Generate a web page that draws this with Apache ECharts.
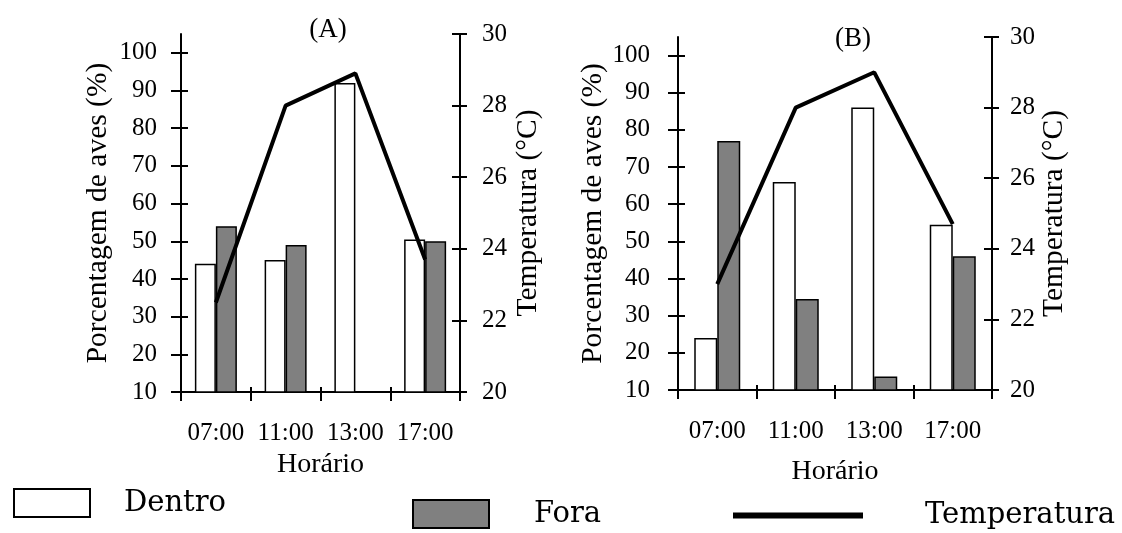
<!DOCTYPE html>
<html>
<head>
<meta charset="utf-8">
<script src="https://cdn.jsdelivr.net/npm/echarts@6/dist/echarts.min.js"></script>
<style>
html,body{margin:0;padding:0;background:#fff;}
#chart{width:1122px;height:533px;}
</style>
</head>
<body>
<div id="chart"></div>
<script>
// ---- data ----
const categories = ['07:00', '11:00', '13:00', '17:00'];
const dentroA = [44, 45, 92, 50.5];
const foraA = [54, 49, null, 50];
const tempA = [22.5, 28, 28.9, 23.7];
const dentroB = [24, 66, 86, 54.5];
const foraB = [77, 34.5, 13.6, 46];
const tempB = [23, 28, 29, 24.7];
const leftTicks = [10, 20, 30, 40, 50, 60, 70, 80, 90, 100];
const panelTitles = ['(A)', '(B)'];

const SERIF = 'Liberation Serif';
const BLACK = '#000';
const GRAY = '#808080';

const chart = echarts.init(document.getElementById('chart'), null, {renderer: 'canvas'});

const grids = [
  {left: 181, top: 34, width: 279, height: 358},
  {left: 678, top: 37, width: 314, height: 353}
];

function xAxes(gi, nameGap) {
  return [
    {
      type: 'category', gridIndex: gi, data: categories, position: 'bottom',
      boundaryGap: true,
      name: 'Horário', nameLocation: 'middle', nameGap: nameGap,
      nameTextStyle: {fontFamily: SERIF, fontSize: 28, color: BLACK},
      axisLine: {show: true, lineStyle: {color: BLACK, width: 2}},
      axisTick: {show: true, alignWithLabel: false, interval: 0, length: 9, lineStyle: {color: BLACK, width: 2}},
      axisLabel: {fontFamily: SERIF, fontSize: 25, color: BLACK, margin: 29, interval: 0, hideOverlap: false},
      splitLine: {show: false}
    },
    {
      type: 'category', gridIndex: gi, data: categories, position: 'bottom',
      boundaryGap: true,
      axisLine: {show: false},
      axisTick: {show: true, inside: true, interval: 0, alignWithLabel: false, length: 5, lineStyle: {color: BLACK, width: 2}},
      axisLabel: {show: false},
      splitLine: {show: false}
    }
  ];
}

function yAxes(gi, leftGap, rightGap, leftMargin, rightMargin) {
  return [
    {
      type: 'value', gridIndex: gi, position: 'left', min: 10, max: 105,
      name: 'Porcentagem de aves (%)', nameLocation: 'middle', nameGap: leftGap,
      nameTextStyle: {fontFamily: SERIF, fontSize: 29.5, color: BLACK},
      axisLine: {show: true, lineStyle: {color: BLACK, width: 2}},
      axisTick: {show: true, length: 10, customValues: leftTicks, lineStyle: {color: BLACK, width: 2}},
      axisLabel: {fontFamily: SERIF, fontSize: 25, color: BLACK, margin: leftMargin, customValues: leftTicks},
      splitLine: {show: false}
    },
    {
      type: 'value', gridIndex: gi, position: 'left', min: 10, max: 105,
      axisLine: {show: false},
      axisTick: {show: true, inside: true, length: 7, customValues: leftTicks, lineStyle: {color: BLACK, width: 2}},
      axisLabel: {show: false},
      splitLine: {show: false}
    },
    {
      type: 'value', gridIndex: gi, position: 'right', min: 20, max: 30, interval: 2,
      name: 'Temperatura (°C)', nameLocation: 'middle', nameGap: rightGap,
      nameTextStyle: {fontFamily: SERIF, fontSize: 29.5, color: BLACK},
      axisLine: {show: true, lineStyle: {color: BLACK, width: 2}},
      axisTick: {show: true, length: 7, lineStyle: {color: BLACK, width: 2}},
      axisLabel: {fontFamily: SERIF, fontSize: 25, color: BLACK, margin: rightMargin},
      splitLine: {show: false}
    },
    {
      type: 'value', gridIndex: gi, position: 'right', min: 20, max: 30, interval: 2,
      axisLine: {show: false},
      axisTick: {show: true, inside: true, length: 8, lineStyle: {color: BLACK, width: 2}},
      axisLabel: {show: false},
      splitLine: {show: false}
    }
  ];
}

function panelSeries(gi, dentro, fora, temp, bw) {
  const xi = gi * 2;
  const yl = gi * 4;
  const yr = gi * 4 + 2;
  return [
    {
      name: 'Dentro', type: 'bar', xAxisIndex: xi, yAxisIndex: yl, data: dentro,
      barWidth: bw, barGap: '0%',
      itemStyle: {color: '#fff', borderColor: BLACK, borderWidth: 1.5},
      z: 2
    },
    {
      name: 'Fora', type: 'bar', xAxisIndex: xi, yAxisIndex: yl, data: fora,
      barWidth: bw, barGap: '0%',
      itemStyle: {color: GRAY, borderColor: BLACK, borderWidth: 1.5},
      z: 2
    },
    {
      name: 'Temperatura', type: 'line', xAxisIndex: xi, yAxisIndex: yr, data: temp,
      symbol: 'none', lineStyle: {color: BLACK, width: 4}, itemStyle: {color: BLACK},
      z: 5
    }
  ];
}

const legendText = {fontFamily: 'DejaVu Serif', fontSize: 29, color: BLACK};

const option = {
  backgroundColor: '#fff',
  animation: false,
  title: [
    {text: panelTitles[0], left: 323, top: 11, textAlign: 'center',
     textStyle: {fontFamily: SERIF, fontSize: 27, fontWeight: 'normal', color: BLACK}},
    {text: panelTitles[1], left: 848, top: 20, textAlign: 'center',
     textStyle: {fontFamily: SERIF, fontSize: 27, fontWeight: 'normal', color: BLACK}}
  ],
  legend: [
    {data: [{name: 'Dentro', icon: 'rect'}], left: 13, top: 488, padding: 0,
     itemWidth: 76, itemHeight: 28,
     textStyle: Object.assign({padding: [0, 0, 0, 29]}, legendText)},
    {data: [{name: 'Fora', icon: 'rect'}], left: 412, top: 499, padding: 0,
     itemWidth: 76, itemHeight: 28,
     textStyle: Object.assign({padding: [0, 0, 0, 40]}, legendText)},
    {data: [{name: 'Temperatura', icon: 'rect', itemStyle: {color: BLACK, borderWidth: 0}}], left: 733, top: 501, padding: 0,
     itemWidth: 130, itemHeight: 6,
     textStyle: Object.assign({padding: [0, 0, 0, 57]}, legendText)}
  ],
  grid: grids,
  xAxis: [].concat(xAxes(0, 57), xAxes(1, 68)),
  yAxis: [].concat(yAxes(0, 68, 53, 24, 22), yAxes(1, 61, 41, 28, 18)),
  series: [].concat(
    panelSeries(0, dentroA, foraA, tempA, 21),
    panelSeries(1, dentroB, foraB, tempB, 23)
  )
};

chart.setOption(option);
</script>
</body>
</html>
